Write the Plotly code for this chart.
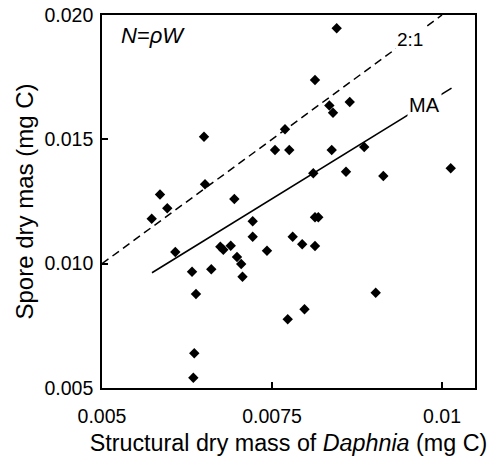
import plotly.graph_objects as go

# Data
structural_mass = [
    0.008451, 0.008132, 0.008343, 0.008397, 0.008643, 0.007691, 0.006500, 0.007544,
    0.007754, 0.008378, 0.008856, 0.008107, 0.008588, 0.009137, 0.010128, 0.006515,
    0.005853, 0.006946, 0.005960, 0.005731, 0.008132, 0.008181, 0.007216, 0.007804,
    0.007216, 0.007944, 0.008132, 0.006893, 0.006740, 0.006784, 0.006078, 0.007426,
    0.006985, 0.007047, 0.006607, 0.006324, 0.007066, 0.006382, 0.009025, 0.007978,
    0.007731, 0.006357, 0.006343,
]
spore_mass = [
    0.019465, 0.017386, 0.016361, 0.016071, 0.016501, 0.015404, 0.015106, 0.014571,
    0.014571, 0.014571, 0.014692, 0.013634, 0.013698, 0.013526, 0.013835, 0.013192,
    0.012782, 0.012601, 0.012227, 0.011808, 0.011865, 0.011865, 0.011704, 0.011085,
    0.011085, 0.010779, 0.010711, 0.010719, 0.010683, 0.010562, 0.010469, 0.010518,
    0.010268, 0.009987, 0.009778, 0.009677, 0.009472, 0.008780, 0.008833, 0.008169,
    0.007763, 0.006396, 0.005414,
]
ma_x = [0.005735, 0.01014]
ma_y = [0.009634, 0.01706]
ratio_x = [0.005, 0.010]
ratio_y = [0.010, 0.020]

x_tickvals = [0.005, 0.0075, 0.01]
x_ticktext = ["0.005", "0.0075", "0.01"]
y_tickvals = [0.005, 0.010, 0.015, 0.020]
y_ticktext = ["0.005", "0.010", "0.015", "0.020"]

FONT = "Liberation Sans, Arial, Helvetica, sans-serif"

fig = go.Figure()
fig.add_trace(go.Scatter(x=ratio_x, y=ratio_y, mode="lines",
                         line=dict(color="black", width=1.5, dash="8px,5px"),
                         hoverinfo="skip", showlegend=False))
fig.add_trace(go.Scatter(x=ma_x, y=ma_y, mode="lines",
                         line=dict(color="black", width=1.6),
                         hoverinfo="skip", showlegend=False))
fig.add_trace(go.Scatter(x=structural_mass, y=spore_mass, mode="markers",
                         marker=dict(symbol="diamond", size=8, color="black"),
                         showlegend=False))

fig.add_annotation(x=0.00953, y=0.018995, xref="x", yref="y", text="2:1",
                   showarrow=False, bgcolor="white", borderpad=1,
                   font=dict(family=FONT, size=19, color="black"))
fig.add_annotation(x=0.009743, y=0.016361, xref="x", yref="y", text="MA",
                   showarrow=False, bgcolor="white", borderpad=1,
                   font=dict(family=FONT, size=20, color="black"))
fig.add_annotation(x=0.046, y=0.946, xref="paper", yref="paper",
                   text="<i>N</i>=<i>ρW</i>", showarrow=False,
                   xanchor="left", yanchor="middle",
                   font=dict(family=FONT, size=22, color="black"))

fig.update_xaxes(range=[0.005, 0.010485], tickvals=x_tickvals, ticktext=x_ticktext,
                 ticks="inside", ticklen=6, tickwidth=1.5, tickcolor="black",
                 ticklabelstandoff=10, automargin=False,
                 showline=True, linecolor="black", linewidth=1.6, mirror=True,
                 showgrid=False, zeroline=False,
                 tickfont=dict(family=FONT, size=19.5, color="black"),
                 title=dict(text="Structural dry mass of <i>Daphnia</i> (mg C)",
                            font=dict(family=FONT, size=23.3, color="black"),
                            standoff=8))
fig.update_yaxes(range=[0.005, 0.020], tickvals=y_tickvals, ticktext=y_ticktext,
                 ticks="inside", ticklen=6, tickwidth=1.5, tickcolor="black",
                 ticklabelstandoff=3, automargin=False,
                 showline=True, linecolor="black", linewidth=1.6, mirror=True,
                 showgrid=False, zeroline=False,
                 tickfont=dict(family=FONT, size=19.5, color="black"),
                 title=dict(text="Spore dry mas (mg C)",
                            font=dict(family=FONT, size=24, color="black"),
                            standoff=4))

fig.update_layout(width=491, height=457,
                  margin=dict(l=102, r=16, t=15, b=69, pad=0),
                  plot_bgcolor="white", paper_bgcolor="white",
                  font=dict(family=FONT, color="black"))

fig.write_html("out.html",
               config={"displayModeBar": False},
               post_script="document.body.style.margin='0';"
                           "document.body.style.overflow='hidden';")
